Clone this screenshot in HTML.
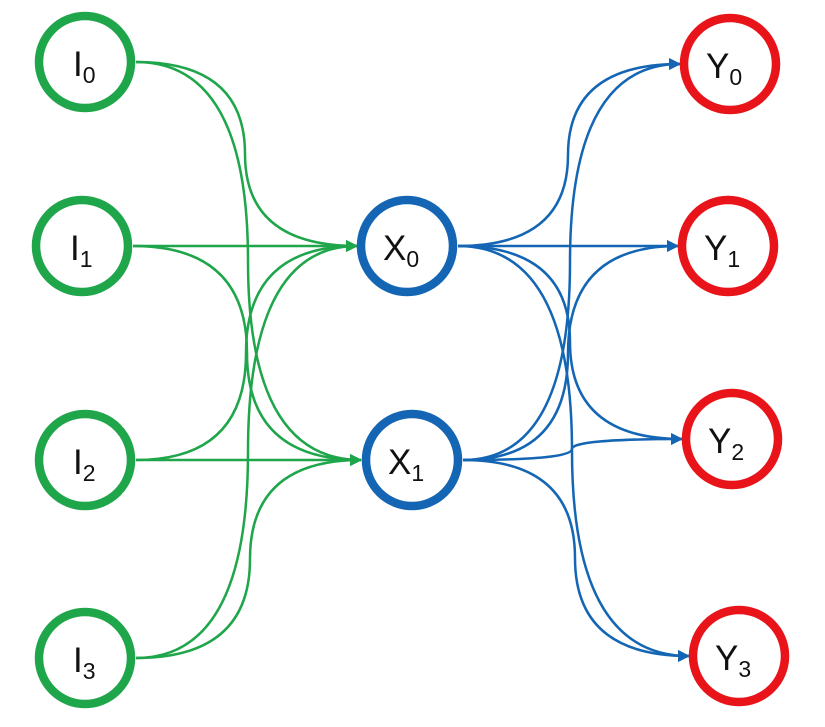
<!DOCTYPE html>
<html><head><style>body{margin:0;background:#fff}svg{display:block}</style></head><body>
<svg width="825" height="727" viewBox="0 0 825 727" xmlns="http://www.w3.org/2000/svg">
<defs>
<marker id="ag" markerWidth="12" markerHeight="12" refX="11" refY="6" orient="auto" markerUnits="userSpaceOnUse"><path d="M0,0 L12,6 L0,12 z" fill="#1fa54a"/></marker>
<marker id="ab" markerWidth="12" markerHeight="12" refX="11" refY="6" orient="auto" markerUnits="userSpaceOnUse"><path d="M0,0 L12,6 L0,12 z" fill="#1466b4"/></marker>
</defs>
<g fill="none" stroke="#1fa54a" stroke-width="2.5" marker-end="url(#ag)">
<path d="M136,62 Q245,62 245,154 Q245,246 357,246"/>
<path d="M136,62 Q248,62 248,261 Q248,460 361,460"/>
<path d="M133,246 L357,246"/>
<path d="M133,246 Q247,246 247,353 Q247,460 361,460"/>
<path d="M136,460 Q246,460 246,353 Q246,246 357,246"/>
<path d="M136,460 L361,460"/>
<path d="M136,658 Q248,658 248,452 Q248,246 357,246"/>
<path d="M136,658 Q250,658 250,559 Q250,460 361,460"/>
</g>
<g fill="none" stroke="#1466b4" stroke-width="2.5" marker-end="url(#ab)">
<path d="M458,246 Q568,246 568,155 Q568,64 680,64"/>
<path d="M458,246 L678,246"/>
<path d="M458,246 Q570,246 570,342 Q570,439 682,439"/>
<path d="M458,246 Q572,246 572,451 Q572,656 689,656"/>
<path d="M463,460 Q570,460 570,262 Q570,64 680,64"/>
<path d="M463,460 Q568,460 568,353 Q568,246 678,246"/>
<path d="M463,460 Q572,460 572,449 Q572,439 682,439"/>
<path d="M463,460 Q575,460 575,558 Q575,656 689,656"/>
</g>
<g fill="#fff" stroke-width="8.5">
<circle cx="85" cy="62" r="46" stroke="#1fa54a"/>
<circle cx="82" cy="246" r="46" stroke="#1fa54a"/>
<circle cx="85" cy="460" r="46" stroke="#1fa54a"/>
<circle cx="85" cy="658" r="46" stroke="#1fa54a"/>
<circle cx="407" cy="246" r="46" stroke="#1466b4"/>
<circle cx="412" cy="460" r="46" stroke="#1466b4"/>
<circle cx="730" cy="64" r="46" stroke="#e8141a"/>
<circle cx="728" cy="246" r="46" stroke="#e8141a"/>
<circle cx="732" cy="439" r="46" stroke="#e8141a"/>
<circle cx="739" cy="656" r="46" stroke="#e8141a"/>
</g>
<g font-family="Liberation Sans, sans-serif" font-size="35" fill="#111">
<text x="73" y="76">I<tspan font-size="23" dy="7">0</tspan></text>
<text x="70" y="260">I<tspan font-size="23" dy="7">1</tspan></text>
<text x="73" y="474">I<tspan font-size="23" dy="7">2</tspan></text>
<text x="73" y="672">I<tspan font-size="23" dy="7">3</tspan></text>
<text x="383" y="260">X<tspan font-size="23" dy="7">0</tspan></text>
<text x="388" y="474">X<tspan font-size="23" dy="7">1</tspan></text>
<text x="706" y="78">Y<tspan font-size="23" dy="7">0</tspan></text>
<text x="704" y="260">Y<tspan font-size="23" dy="7">1</tspan></text>
<text x="708" y="453">Y<tspan font-size="23" dy="7">2</tspan></text>
<text x="715" y="670">Y<tspan font-size="23" dy="7">3</tspan></text>
</g>
</svg>
</body></html>
